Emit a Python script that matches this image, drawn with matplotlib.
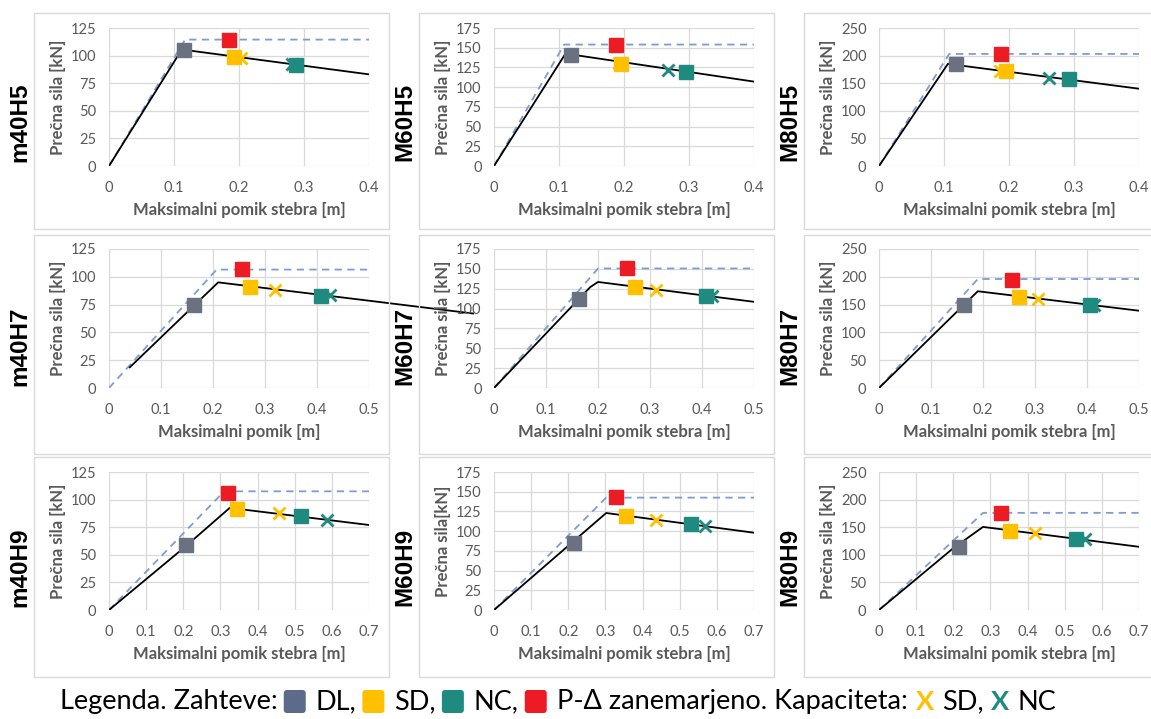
import numpy as np
import matplotlib
matplotlib.use("Agg")
import matplotlib.pyplot as plt
from matplotlib.patches import Rectangle, FancyBboxPatch
from matplotlib.transforms import IdentityTransform

# ---------------- data ----------------
panel_names = ["m40H5", "M60H5", "M80H5", "m40H7", "M60H7", "M80H7", "m40H9", "M60H9", "M80H9"]
x_max = [0.4, 0.4, 0.4, 0.5, 0.5, 0.5, 0.7, 0.7, 0.7]
y_max = [125, 175, 250, 125, 175, 250, 125, 175, 250]
y_step = [25, 25, 50, 25, 25, 50, 25, 25, 50]
x_labels = ["Maksimalni pomik stebra [m]", "Maksimalni pomik stebra [m]", "Maksimalni pomik stebra [m]",
            "Maksimalni pomik [m]", "Maksimalni pomik stebra [m]", "Maksimalni pomik stebra [m]",
            "Maksimalni pomik stebra [m]", "Maksimalni pomik stebra [m]", "Maksimalni pomik stebra [m]"]
y_labels = ["Prečna sila [kN]"] * 7 + ["Prečna sila[kN]", "Prečna sila [kN]"]

# capacity curve (black solid)
curve_x = [[0, 0.112, 0.4], [0, 0.110, 0.4], [0, 0.106, 0.4],
           [0.04, 0.21, 0.5, 0.7], [0, 0.185, 0.2, 0.5], [0, 0.19, 0.5],
           [0, 0.204, 0.325, 0.7], [0, 0.302, 0.7], [0, 0.2, 0.28, 0.7]]
curve_y = [[0, 105.5, 83], [0, 142.5, 107], [0, 185, 140],
           [18.6, 95, 78.5, 67], [0, 127, 133.5, 108.5], [0, 174, 139],
           [0, 57, 92.5, 77], [0, 123, 98], [0, 112, 150.5, 114.5]]
# P-delta neglected curve (blue dashed)
pd_x = [[0, 0.117, 0.4], [0, 0.108, 0.4], [0, 0.108, 0.4],
        [0, 0.207, 0.5], [0, 0.2, 0.5], [0, 0.19, 0.5],
        [0, 0.31, 0.7], [0, 0.302, 0.7], [0, 0.28, 0.7]]
pd_y = [[0, 114.5, 114.5], [0, 154, 154], [0, 203, 203],
        [0, 106.5, 106.5], [0, 150.5, 150.5], [0, 196, 196],
        [0, 107.5, 107.5], [0, 142.5, 142.5], [0, 176, 176]]
# demands (squares)
dl_x = [0.115, 0.119, 0.119, 0.163, 0.164, 0.163, 0.208, 0.215, 0.215]
dl_y = [105, 140.5, 185.5, 75, 112, 150, 59, 85.5, 114.5]
sd_x = [0.193, 0.196, 0.196, 0.271, 0.271, 0.27, 0.345, 0.356, 0.354]
sd_y = [99, 129, 172, 90.5, 127, 164, 91.5, 119.5, 143.5]
nc_x = [0.288, 0.296, 0.293, 0.407, 0.408, 0.406, 0.516, 0.531, 0.531]
nc_y = [91.5, 119.5, 157, 83, 116, 149, 85, 108.5, 128.5]
pd_dem_x = [0.185, 0.188, 0.188, 0.256, 0.256, 0.255, 0.32, 0.328, 0.329]
pd_dem_y = [114.5, 154, 203, 107, 151, 194, 106, 143, 176]
# capacities (crosses)
sd_cap_x = [0.203, 0.193, 0.186, 0.32, 0.311, 0.305, 0.458, 0.437, 0.421]
sd_cap_y = [98, 130, 172, 88.5, 124, 159.5, 87.5, 114, 140]
nc_cap_x = [0.281, 0.268, 0.262, 0.425, 0.419, 0.414, 0.587, 0.567, 0.554]
nc_cap_y = [92, 121.5, 160, 83.5, 116, 149, 81.5, 107, 128]

# ---------------- style ----------------
W, H = 1151, 719
plt.rcParams["font.family"] = ["Lato", "DejaVu Sans"]
C_DL = "#6a7282"
C_DL_LEG = "#5c6b8a"
C_SD = "#ffc000"
C_NC = "#1f8b80"
C_RED = "#ed1c24"
C_DASH = "#7c9dd2"
C_TXT = "#595959"
C_GRID = "#d9d9d9"

fig = plt.figure(figsize=(W / 100, H / 100), dpi=100)

col_left = [109, 494, 879]
row_top = [28, 249, 472]
row_bot = [166, 388, 610]
box_x = [(34, 389), (419, 774), (804, 1165)]
box_y = [(13, 229), (235, 454), (457, 677)]
name_y = [122, 346, 567]

def px2fig(x, y):
    return x / W, 1 - y / H

# panel boxes
for (bx0, bx1) in box_x:
    for (by0, by1) in box_y:
        fx, fy = px2fig(bx0, by1)
        fig.patches.append(Rectangle((fx, fy), (bx1 - bx0) / W, (by1 - by0) / H,
                                     transform=fig.transFigure, fill=False,
                                     ec=C_GRID, lw=1.0, zorder=0))

for i in range(9):
    r, c = divmod(i, 3)
    x0 = col_left[c]
    fx, fy = px2fig(x0, row_bot[r])
    ax = fig.add_axes([fx, fy, 260 / W, (row_bot[r] - row_top[r]) / H])
    ax.set_xlim(0, x_max[i])
    ax.set_ylim(0, y_max[i])
    xt = np.round(np.arange(0, x_max[i] + 1e-9, 0.1), 1)
    ax.set_xticks(xt)
    ax.set_xticklabels([f"{v:g}" for v in xt])
    ax.set_yticks(np.arange(0, y_max[i] + 1, y_step[i]))
    ax.tick_params(length=0, labelsize=10.5, colors=C_TXT)
    ax.tick_params(axis="x", pad=11)
    ax.tick_params(axis="y", pad=9)
    for s in ax.spines.values():
        s.set_visible(False)
    ax.grid(True, color=C_GRID, lw=0.9)
    ax.set_axisbelow(True)

    ax.plot(pd_x[i], pd_y[i], color=C_DASH, lw=1.3, dashes=(4, 3), zorder=2)
    ax.plot(curve_x[i], curve_y[i], color="black", lw=1.3, zorder=3,
            clip_on=(i != 3))
    ax.plot(sd_cap_x[i], sd_cap_y[i], "x", color=C_SD, ms=9, mew=2, zorder=4)
    ax.plot(nc_cap_x[i], nc_cap_y[i], "x", color=C_NC, ms=9, mew=2, zorder=4)
    for (mx, my, mc) in [(dl_x, dl_y, C_DL), (sd_x, sd_y, C_SD),
                         (nc_x, nc_y, C_NC), (pd_dem_x, pd_dem_y, C_RED)]:
        ax.plot(mx[i], my[i], "s", color=mc, ms=9.5, mec=mc, zorder=5, clip_on=False)

    # labels
    cx = x0 + 130
    tx, ty = px2fig(cx, row_bot[r] + 44)
    fig.text(tx, ty, x_labels[i], ha="center", va="center", fontsize=12,
             fontweight="bold", color=C_TXT)
    tx, ty = px2fig(x0 - 51, (row_top[r] + row_bot[r]) / 2)
    fig.text(tx, ty, y_labels[i], ha="center", va="center", rotation=90,
             fontsize=12, fontweight="bold", color=C_TXT)
    tx, ty = px2fig(x0 - 89, name_y[r])
    fig.text(tx, ty, panel_names[i], ha="center", va="center", rotation=90,
             fontsize=17.5, fontweight="bold", color="black",
             family=["Liberation Sans", "DejaVu Sans"])

# ---------------- legend line ----------------
renderer = fig.canvas.get_renderer()
FS = 19.5
yc_px = 702
items = [("t", "Legenda. Zahteve:", None), ("sq", None, C_DL_LEG), ("t", "DL,", None),
         ("sq", None, C_SD), ("t", "SD,", None), ("sq", None, C_NC), ("t", "NC,", None),
         ("sq", None, C_RED), ("t", "P-Δ zanemarjeno. Kapaciteta:", None),
         ("x", "X", C_SD), ("t", "SD,", None), ("x", "X", C_NC), ("t", "NC", None)]
x = 60.0
for kind, txt, col in items:
    if kind == "sq":
        x += 6
        p = FancyBboxPatch((x, H - yc_px - 11), 22, 23,
                           boxstyle="round,pad=0,rounding_size=3",
                           transform=IdentityTransform(), fc=col, ec="none")
        fig.add_artist(p)
        x += 22 + 10
    else:
        if kind == "x":
            x += 8
        fx, fy = px2fig(x, yc_px)
        t = fig.text(fx, fy, txt, ha="left", va="center", fontsize=FS,
                     color=(col if col else "black"),
                     fontweight=("bold" if kind == "x" else "normal"))
        bb = t.get_window_extent(renderer)
        x = bb.x1 + (8 if kind == "x" else 0)

fig.savefig("out.png", dpi=100)
